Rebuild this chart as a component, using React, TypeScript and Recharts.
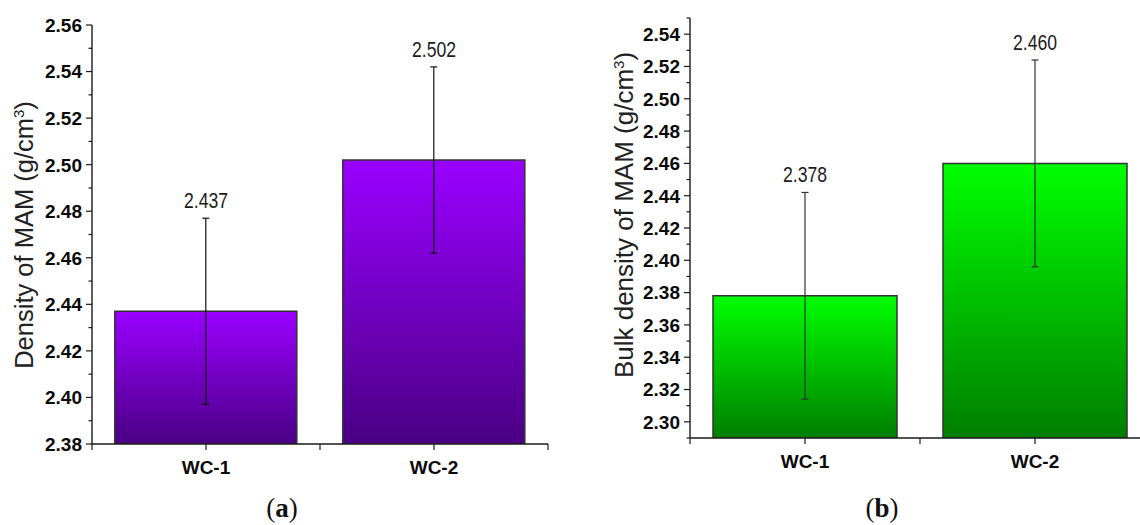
import React from "react";
import {
  ComposedChart,
  Bar,
  Line,
  XAxis,
  YAxis,
  ErrorBar,
  LabelList,
} from "recharts";

const categories = ["WC-1", "WC-2"];

// (a) density
const densityValues = [2.437, 2.502];
const densityErrors = [0.04, 0.04];
const densityMajor = [2.38, 2.4, 2.42, 2.44, 2.46, 2.48, 2.5, 2.52, 2.54, 2.56];
const densityMinor = [2.39, 2.41, 2.43, 2.45, 2.47, 2.49, 2.51, 2.53, 2.55];

// (b) bulk density
const bulkValues = [2.378, 2.46];
const bulkErrors = [0.064, 0.064];
const bulkMajor = [2.3, 2.32, 2.34, 2.36, 2.38, 2.4, 2.42, 2.44, 2.46, 2.48, 2.5, 2.52, 2.54];
const bulkMinor = [2.29, 2.31, 2.33, 2.35, 2.37, 2.39, 2.41, 2.43, 2.45, 2.47, 2.49, 2.51, 2.53, 2.55];

const FONT = "'Liberation Sans', Arial, Helvetica, sans-serif";
const AXIS = "#1a1a1a";
const H = 525;

function buildRows(values: number[], errors: number[]) {
  return categories.map((name, i) => ({
    name,
    value: values[i],
    err: errors[i],
    cap: values[i] + errors[i],
  }));
}

type PanelProps = {
  id: string;
  values: number[];
  errors: number[];
  domain: [number, number];
  major: number[];
  minor: number[];
  topColor: string;
  bottomColor: string;
  errColor: string;
  left: number;
  width: number;
  margin: { top: number; right: number; bottom: number; left: number };
  title: React.ReactNode;
  titleSize: number;
  titleX: number;
  titleY: number;
};

function Panel(p: PanelProps) {
  const rows = buildRows(p.values, p.errors);
  const ticks = [...p.major, ...p.minor].sort((a, b) => a - b);
  const yAxisWidth = 40;
  const xAxisHeight = 40;
  const plotWidth = p.width - p.margin.left - p.margin.right - yAxisWidth;
  const band = plotWidth / categories.length;

  const YTick = (props: any) => {
    const { x, y, payload } = props;
    const isMajor = p.major.includes(payload.value);
    return (
      <g>
        <line x1={x - (isMajor ? 6 : 3.5)} x2={x} y1={y} y2={y} stroke={AXIS} strokeWidth={1.2} />
        {isMajor && (
          <text
            x={x - 10}
            y={y}
            dy="0.36em"
            textAnchor="end"
            fontSize={19}
            fontWeight="bold"
            fill="#0a0a0a"
            fontFamily={FONT}
          >
            {payload.value.toFixed(2)}
          </text>
        )}
      </g>
    );
  };

  const XTick = (props: any) => {
    const { x, y, payload, index } = props;
    const last = index === categories.length - 1;
    return (
      <g stroke={AXIS} strokeWidth={1.2}>
        <line x1={x} x2={x} y1={y} y2={y + 6} />
        <line x1={x - band / 2} x2={x - band / 2} y1={y} y2={y + 6} />
        {last && <line x1={x + band / 2} x2={x + band / 2} y1={y} y2={y + 6} />}
        <text
          x={x}
          y={y + 30}
          textAnchor="middle"
          fontSize={19}
          fontWeight="bold"
          fill="#0a0a0a"
          stroke="none"
          fontFamily={FONT}
        >
          {payload.value}
        </text>
      </g>
    );
  };

  const CapLabel = (props: any) => {
    const { x, y, value } = props;
    return (
      <text
        transform={`translate(${x},${y - 10}) scale(0.8,1)`}
        textAnchor="middle"
        fontSize={22}
        fill="#1c1c1c"
        fontFamily={FONT}
      >
        {Number(value).toFixed(3)}
      </text>
    );
  };

  return (
    <div style={{ position: "absolute", left: p.left, top: 0 }}>
      <ComposedChart
        width={p.width}
        height={H}
        data={rows}
        margin={p.margin}
        barCategoryGap="10%"
      >
        <defs>
          <linearGradient id={p.id} x1="0" y1="0" x2="0" y2="1">
            <stop offset="0%" stopColor={p.topColor} />
            <stop offset="100%" stopColor={p.bottomColor} />
          </linearGradient>
        </defs>
        <XAxis
          dataKey="name"
          height={xAxisHeight}
          interval={0}
          tickSize={0}
          tickMargin={0}
          tickLine={false}
          axisLine={{ stroke: AXIS, strokeWidth: 1.4 }}
          tick={XTick}
        />
        <YAxis
          type="number"
          width={yAxisWidth}
          domain={p.domain}
          ticks={ticks}
          interval={0}
          allowDataOverflow
          tickSize={0}
          tickMargin={0}
          tickLine={false}
          axisLine={{ stroke: AXIS, strokeWidth: 1.4 }}
          tick={YTick}
        />
        <Bar
          dataKey="value"
          fill={`url(#${p.id})`}
          stroke="#333"
          strokeWidth={1.5}
          isAnimationActive={false}
        >
          <ErrorBar
            dataKey="err"
            direction="y"
            width={3.5}
            stroke={p.errColor}
            strokeWidth={1.2}
          />
        </Bar>
        <Line
          dataKey="cap"
          stroke="none"
          dot={false}
          activeDot={false}
          legendType="none"
          isAnimationActive={false}
        >
          <LabelList dataKey="value" content={CapLabel} />
        </Line>
      </ComposedChart>
      <svg
        width={p.width}
        height={H}
        style={{ position: "absolute", left: 0, top: 0, pointerEvents: "none" }}
      >
        <text
          transform={`translate(${p.titleX},${p.titleY}) rotate(-90)`}
          textAnchor="middle"
          fontSize={p.titleSize}
          fill="#222"
          fontFamily={FONT}
        >
          {p.title}
        </text>
      </svg>
    </div>
  );
}

const unit = (
  <>
    (g/cm<tspan dy={-9} fontSize={15}>3</tspan>
    <tspan dy={9}>)</tspan>
  </>
);

export default function App() {
  return (
    <div
      style={{
        position: "fixed",
        left: 0,
        top: 0,
        width: 1140,
        height: H,
        overflow: "hidden",
        background: "#fff",
        fontFamily: FONT,
      }}
    >
      <Panel
        id="gradPurple"
        values={densityValues}
        errors={densityErrors}
        domain={[2.38, 2.56]}
        major={densityMajor}
        minor={densityMinor}
        topColor="#9a00ff"
        bottomColor="#4a0084"
        errColor="#111"
        left={0}
        width={570}
        margin={{ top: 25, right: 22, bottom: 41, left: 52 }}
        title={<>Density of MAM {unit}</>}
        titleSize={25.5}
        titleX={33}
        titleY={235}
      />
      <Panel
        id="gradGreen"
        values={bulkValues}
        errors={bulkErrors}
        domain={[2.29, 2.55]}
        major={bulkMajor}
        minor={bulkMinor}
        topColor="#00ff00"
        bottomColor="#007e00"
        errColor="#333"
        left={600}
        width={560}
        margin={{ top: 18, right: 10, bottom: 47, left: 50 }}
        title={<>Bulk density of MAM {unit}</>}
        titleSize={26}
        titleX={33}
        titleY={215}
      />
      <svg
        width={1140}
        height={H}
        style={{ position: "absolute", left: 0, top: 0, pointerEvents: "none" }}
        fontFamily="'Liberation Serif', 'DejaVu Serif', serif"
        fontSize={27}
        fill="#111"
      >
        <text x={282} y={517} textAnchor="middle">
          (<tspan fontWeight="bold">a</tspan>)
        </text>
        <text x={882} y={517} textAnchor="middle">
          (<tspan fontWeight="bold">b</tspan>)
        </text>
      </svg>
    </div>
  );
}
